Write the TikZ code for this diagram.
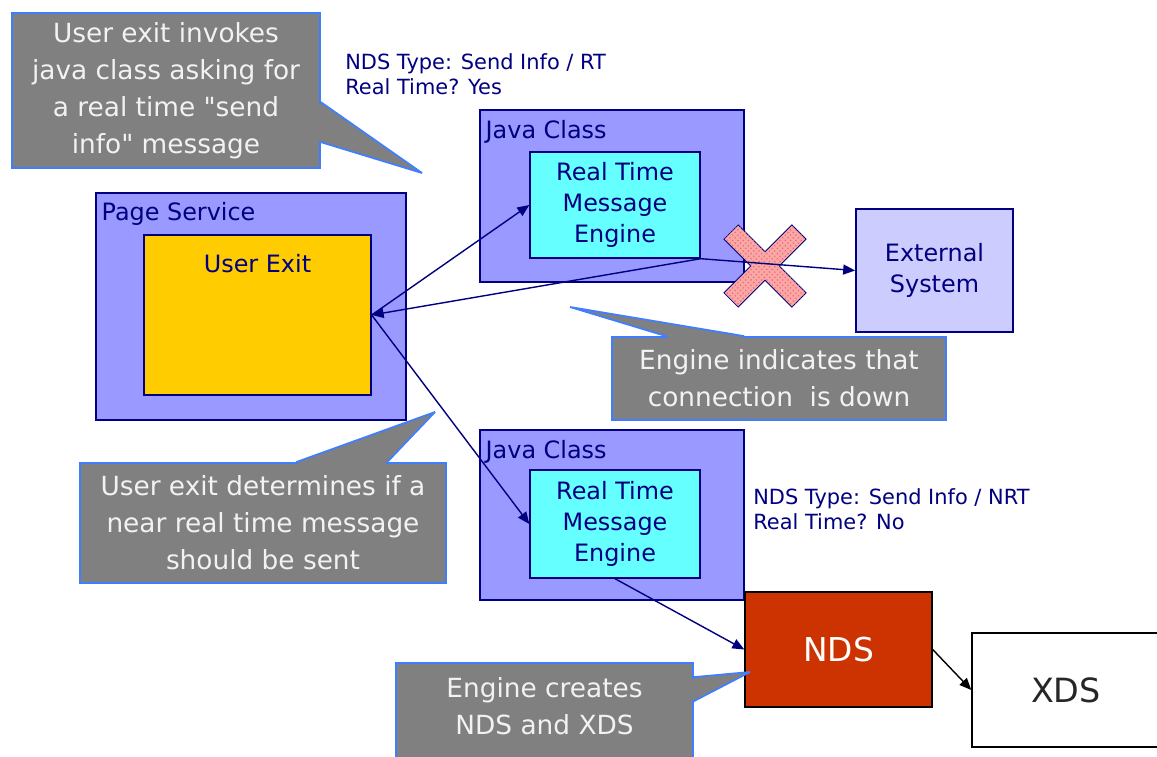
\documentclass[tikz,border=0pt]{standalone}
\usepackage{fontspec}
\setmainfont{DejaVu Sans}[Ligatures=TeXOff]
\usepackage{tikz}
\usetikzlibrary{arrows.meta,positioning,calc,patterns}
\definecolor{Navy}{HTML}{000080}
\definecolor{ClassBlue}{HTML}{9999FF}
\definecolor{EngineCyan}{HTML}{66FFFF}
\definecolor{ExitGold}{HTML}{FFCC00}
\definecolor{ExtLilac}{HTML}{CCCCFF}
\definecolor{NdsRed}{HTML}{CC3300}
\definecolor{NoteGray}{HTML}{808080}
\definecolor{NoteBlue}{HTML}{3F7FFF}
\definecolor{NoteText}{HTML}{F2F2F2}
\definecolor{CrossPink}{HTML}{F7A8A8}
\newcommand{\notefont}{\fontsize{15}{21}\selectfont}
\newcommand{\boxfont}{\fontsize{13.6}{17.8}\selectfont}
\newcommand{\tagfont}{\fontsize{11.9}{14.2}\selectfont}
% callout tail: base a, tip, base b
\newcommand{\notetail}[3]{%
  \fill[NoteGray] (#1) -- (#2) -- (#3) -- cycle;
  \draw[NoteGray,line width=1.6pt,shorten <=0.9pt,shorten >=0.9pt] (#1) -- (#3);
  \draw[NoteBlue,line width=1pt,line join=bevel] (#1) -- (#2) -- (#3);}

\begin{document}
\begin{tikzpicture}[x=0.02cm,y=-0.02cm,
  box/.style={draw=Navy,line width=0.8pt,inner sep=0pt},
  classbox/.style={box,fill=ClassBlue},
  enginebox/.style={box,fill=EngineCyan,text=Navy,font=\boxfont,align=center,
    minimum width=3.4cm},
  note/.style={fill=NoteGray,draw=NoteBlue,line width=1pt,text=NoteText,
    font=\notefont,align=center,inner sep=0pt},
  tag/.style={text=Navy,font=\tagfont,anchor=north west,inner sep=0pt,align=left},
  caption/.style={text=Navy,font=\boxfont,inner sep=0pt},
  flow/.style={draw=Navy,line width=0.8pt,-{Triangle[length=6.8pt,width=5.7pt]}}]
  \useasboundingbox[fill=white] (0,0) rectangle (1157,757);

  % page service with the user exit
  \node[classbox,minimum width=6.2cm,minimum height=4.54cm] (pg) at (251,306.5) {};
  \node[caption,anchor=north west] at ($(pg.north west)+(6,10)$) {Page Service};
  \node[box,fill=ExitGold,minimum width=4.54cm,minimum height=3.2cm] (ue) at (257.5,315) {};
  \node[caption,anchor=north] at ($(ue.north)+(0,20)$) {User Exit};

  % real time java class
  \node[classbox,minimum width=5.28cm,minimum height=3.44cm] (jc1) at (612,196) {};
  \node[caption,anchor=north west] at ($(jc1.north west)+(6,11)$) {Java Class};
  \node[enginebox,minimum height=2.12cm] (rt1) at (615,205) {Real Time\\Message\\Engine};
  \node[tag] (tagRT) at (345,53) {NDS Type: Send Info / RT\\Real Time? Yes};

  % external system
  \node[box,fill=ExtLilac,line width=1pt,minimum width=3.14cm,minimum height=2.46cm,
    text=Navy,font=\boxfont,align=center] (ext) at (934.5,270.5) {External\\System};

  % near real time java class
  \node[classbox,minimum width=5.28cm,minimum height=3.4cm] (jc2) at (612,515) {};
  \node[caption,anchor=north west] at ($(jc2.north west)+(6,11)$) {Java Class};
  \node[enginebox,minimum height=2.16cm] (rt2) at (615,524) {Real Time\\Message\\Engine};
  \node[tag] (tagNRT) at (753,488) {NDS Type: Send Info / NRT\\Real Time? No};

  % NDS and XDS
  \node[draw=black,line width=0.8pt,fill=NdsRed,minimum width=3.74cm,minimum height=2.3cm,
    text=white,font=\fontsize{18.7}{22}\selectfont] (nds) at (838.5,649.5) {NDS};
  \node[draw=black,line width=0.8pt,fill=white,minimum width=3.76cm,minimum height=2.28cm,
    text=black!85,font=\fontsize{19}{22}\selectfont] (xds) at (1066,690) {XDS};

  % broken connection
  \draw[draw=Navy,line width=0.5pt,fill=CrossPink,
    postaction={pattern=crosshatch dots,pattern color=red!60!white},
    shift={(765,266)},rotate=45]
    (10,10) -- (48,10) -- (48,-10) -- (10,-10) -- (10,-48) -- (-10,-48) -- (-10,-10)
    -- (-48,-10) -- (-48,10) -- (-10,10) -- (-10,48) -- (10,48) -- cycle;

  % connectors
  \draw[flow] (ue.east) -- (rt1.west);
  \draw[flow] (rt1.south east) -- (ext.west);
  \draw[flow] (rt1.south east) -- (ue.east);
  \draw[flow] (ue.east) -- (rt2.west);
  \draw[flow] (rt2.south) -- (nds.west);
  \draw[flow,draw=black] (nds.east) -- (xds.west);

  % callouts
  \node[note,minimum width=6.16cm,minimum height=3.1cm] (noteInvoke) at (166,90.5)
    {User exit invokes\\java class asking for\\a real time "send\\info" message};
  \coordinate (tipInvoke) at (422,173);
  \notetail{$(noteInvoke.north east)+(0,90)$}{tipInvoke}{$(noteInvoke.north east)+(0,130)$}

  \node[note,minimum width=6.68cm,minimum height=1.66cm] (noteDown) at (779,378.5)
    {Engine indicates that\\connection\ \ is down};
  \coordinate (tipDown) at (570,307);
  \notetail{$(noteDown.north west)+(55,0)$}{tipDown}{$(noteDown.north west)+(133,0)$}

  \node[note,minimum width=7.32cm,minimum height=2.4cm] (noteDecide) at (263,523)
    {User exit determines if a\\near real time message\\should be sent};
  \coordinate (tipDecide) at (435,412);
  \notetail{$(noteDecide.north west)+(308,0)$}{tipDecide}{$(noteDecide.north west)+(217,0)$}

  \node[note,minimum width=5.94cm,minimum height=1.98cm] (noteCreate) at (544.5,712.5) {};
  \node[note,draw=none,fill=none] (noteCreateText) at ($(noteCreate.center)+(0,-6)$)
    {Engine creates\\NDS and XDS};
  \coordinate (tipCreate) at (750,672);
  \notetail{$(noteCreate.north east)+(0,15)$}{tipCreate}{$(noteCreate.north east)+(0,39)$}
\end{tikzpicture}
\end{document}
